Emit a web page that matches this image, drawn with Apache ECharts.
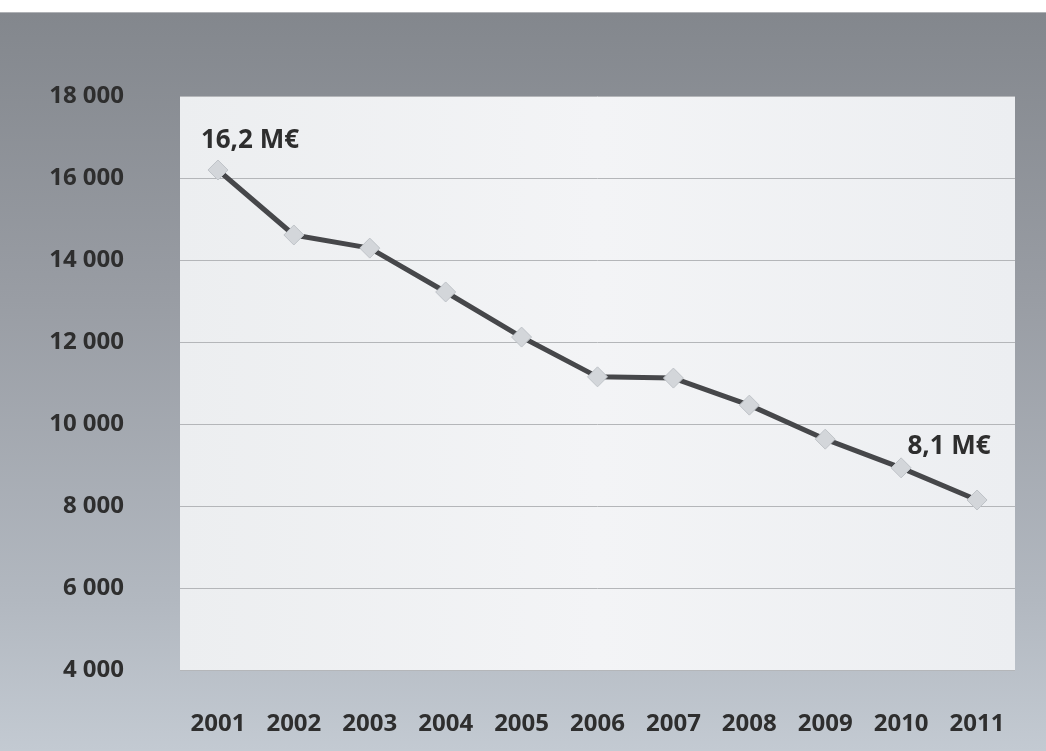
<!DOCTYPE html>
<html>
<head>
<meta charset="utf-8">
<script src="https://cdn.jsdelivr.net/npm/echarts@6/dist/echarts.min.js"></script>
<style>
html,body{margin:0;padding:0;background:#fff;}
#chart{width:1046px;height:751px;}
</style>
</head>
<body>
<div id="chart"></div>
<script>
const years = ['2001','2002','2003','2004','2005','2006','2007','2008','2009','2010','2011'];
const values = [16195, 14610, 14290, 13220, 12120, 11150, 11120, 10460, 9630, 8930, 8146];
const labeledIndex = [0, 10];
const yMin = 4000, yMax = 18000, yStep = 2000;

const chart = echarts.init(document.getElementById('chart'));
const fmtM = v => (v / 1000).toFixed(1).replace('.', ',') + ' M€';
const fmtThousands = v => String(v).replace(/\B(?=(\d{3})+(?!\d))/g, ' ');

const seriesData = values.map((v, i) => {
  if (labeledIndex.indexOf(i) < 0) return v;
  return {
    value: v,
    label: {
      show: true,
      formatter: p => fmtM(p.value),
      position: 'top',
      offset: i === 0 ? [32, -1] : [-28, -25],
      fontFamily: 'Open Sans',
      fontWeight: 700,
      fontSize: 26,
      color: '#2e2e2e'
    }
  };
});

chart.setOption({
  animation: false,
  backgroundColor: {
    type: 'linear', x: 0, y: 0, x2: 0, y2: 1,
    colorStops: [
      {offset: 0, color: '#ffffff'},
      {offset: 0.016, color: '#ffffff'},
      {offset: 0.017, color: '#83878d'},
      {offset: 0.4, color: '#999da4'},
      {offset: 0.8, color: '#b2b8c0'},
      {offset: 1, color: '#c3cad2'}
    ]
  },
  grid: {
    left: 180, right: 31, top: 96, bottom: 81,
    show: true,
    borderWidth: 0,
    backgroundColor: {
      type: 'linear', x: 0, y: 0, x2: 1, y2: 0,
      colorStops: [
        {offset: 0, color: '#eceef0'},
        {offset: 0.5, color: '#f3f4f6'},
        {offset: 1, color: '#eceef1'}
      ]
    }
  },
  xAxis: {
    type: 'category',
    data: years,
    boundaryGap: true,
    axisLine: {show: false},
    axisTick: {show: false},
    axisLabel: {
      margin: 42,
      fontFamily: 'Open Sans',
      fontWeight: 700,
      fontSize: 24,
      color: '#2e2e2e'
    }
  },
  yAxis: {
    type: 'value',
    min: yMin, max: yMax, interval: yStep,
    axisLine: {show: false},
    axisTick: {show: false},
    splitLine: {lineStyle: {color: '#b4b6b9', width: 1}},
    axisLabel: {
      margin: 56,
      formatter: v => fmtThousands(v),
      fontFamily: 'Open Sans',
      fontWeight: 700,
      fontSize: 24,
      color: '#2e2e2e',
      padding: [5, 0, 0, 0]
    }
  },
  series: [{
    type: 'line',
    data: seriesData,
    symbol: 'diamond',
    symbolSize: 20,
    lineStyle: {color: '#46474a', width: 5},
    itemStyle: {color: '#d3d6da', borderColor: '#bfc3c8', borderWidth: 1},
    z: 3
  }]
});
</script>
</body>
</html>
